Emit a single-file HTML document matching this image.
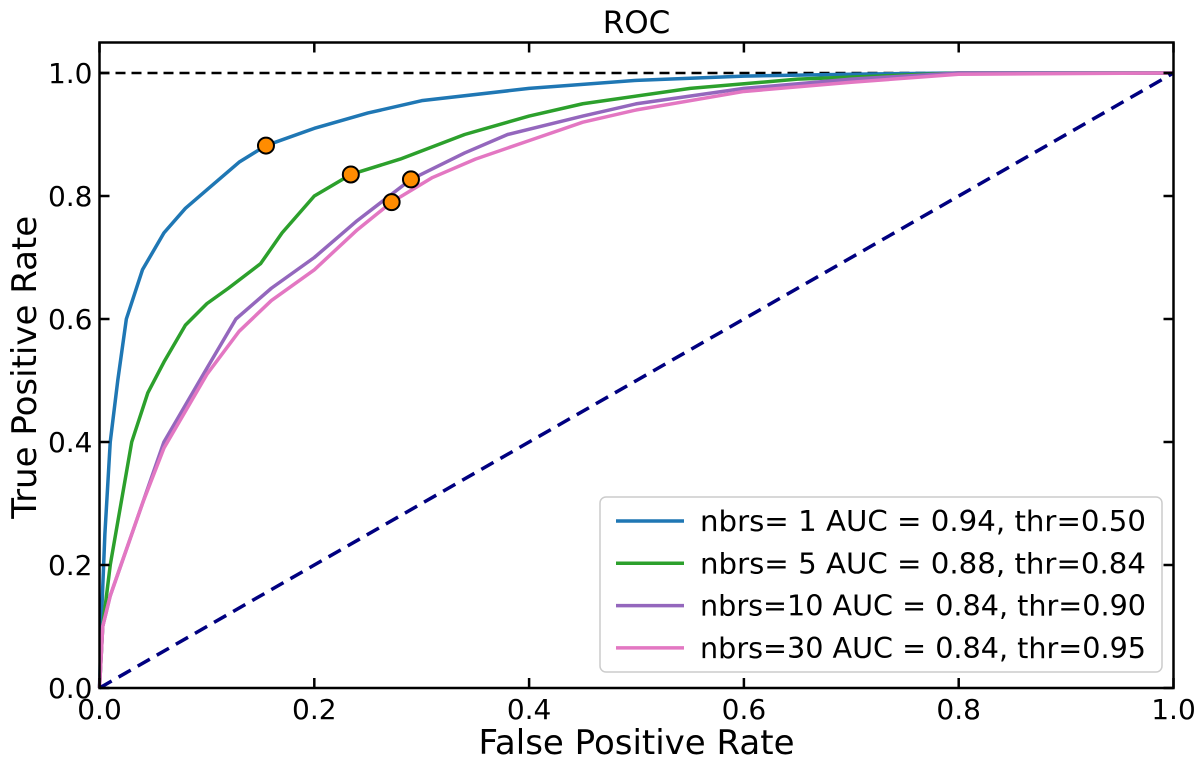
<!DOCTYPE html>
<html><head><meta charset="utf-8"><style>
body{margin:0;background:#fff}
svg text{font-family:"DejaVu Sans","Liberation Sans",sans-serif;fill:#000}
</style></head><body>
<svg id="c" width="1200" height="763"></svg>
<script>
const xTicks=[0,0.2,0.4,0.6,0.8,1.0];
const yTicks=[0,0.2,0.4,0.6,0.8,1.0];
const tickLabels=["0.0","0.2","0.4","0.6","0.8","1.0"];
const seriesNames=["nbrs= 1 AUC = 0.94, thr=0.50","nbrs= 5 AUC = 0.88, thr=0.84","nbrs=10 AUC = 0.84, thr=0.90","nbrs=30 AUC = 0.84, thr=0.95"];
const seriesColors=["#1f77b4","#2ca02c","#9467bd","#e377c2"];
const s1=[[0,0],[0.002,0.12],[0.005,0.25],[0.01,0.4],[0.017,0.5],[0.025,0.6],[0.04,0.68],[0.06,0.74],[0.08,0.78],[0.1,0.81],[0.13,0.855],[0.155,0.882],[0.2,0.91],[0.25,0.935],[0.3,0.955],[0.4,0.975],[0.5,0.988],[0.6,0.995],[0.7,0.998],[0.8,1],[1,1]];
const s5=[[0,0],[0.003,0.1],[0.01,0.2],[0.02,0.3],[0.03,0.4],[0.045,0.48],[0.06,0.53],[0.08,0.59],[0.1,0.625],[0.12,0.65],[0.15,0.69],[0.17,0.74],[0.2,0.8],[0.234,0.835],[0.28,0.86],[0.34,0.9],[0.4,0.93],[0.45,0.95],[0.55,0.975],[0.65,0.99],[0.8,1],[1,1]];
const s10=[[0,0],[0.003,0.1],[0.01,0.15],[0.02,0.2],[0.04,0.3],[0.06,0.4],[0.08,0.46],[0.1,0.52],[0.127,0.6],[0.16,0.65],[0.2,0.7],[0.24,0.76],[0.29,0.827],[0.34,0.87],[0.38,0.9],[0.45,0.93],[0.5,0.95],[0.6,0.975],[0.7,0.99],[0.8,1],[1,1]];
const s30=[[0,0],[0.003,0.1],[0.01,0.15],[0.02,0.2],[0.04,0.3],[0.06,0.39],[0.08,0.45],[0.1,0.51],[0.13,0.58],[0.16,0.63],[0.2,0.68],[0.24,0.745],[0.272,0.79],[0.31,0.83],[0.35,0.86],[0.4,0.89],[0.45,0.92],[0.5,0.94],[0.6,0.97],[0.7,0.985],[0.8,0.998],[1,1]];
const thrPoints=[[0.155,0.882],[0.234,0.835],[0.29,0.827],[0.272,0.79]];
const NS="http://www.w3.org/2000/svg",svg=document.getElementById('c');
const L=99.5,R=1173.5,B=688,T=42.5;
const X=v=>L+v*(R-L), Y=v=>B-v*615;
function el(t,a,p){const e=document.createElementNS(NS,t);for(const k in a)e.setAttribute(k,a[k]);(p||svg).appendChild(e);return e;}
let e=el('line',{x1:X(0),x2:X(1),y1:Y(1),y2:Y(1),stroke:'#000','stroke-width':2.5,'stroke-dasharray':'10,6'});


const all=[s1,s5,s10,s30];
all.forEach((s,i)=>{
 const p=el('polyline',{points:s.map(d=>X(d[0])+','+Y(d[1])).join(' '),fill:'none',stroke:seriesColors[i],'stroke-width':3.5,'stroke-linejoin':'round'});
 
 
});
e=el('line',{x1:X(0),x2:X(1),y1:Y(0),y2:Y(1),stroke:'#000080','stroke-width':3.5,'stroke-dasharray':'14,8'});


thrPoints.forEach((d,i)=>{
 const c=el('circle',{cx:X(d[0]),cy:Y(d[1]),r:8,fill:'#ff8c00',stroke:'#000','stroke-width':2});
 
 
});
e=el('rect',{x:L,y:T,width:R-L,height:B-T,fill:'none',stroke:'#000','stroke-width':2.5});


xTicks.forEach((v,i)=>{
 el('line',{x1:X(v),x2:X(v),y1:B,y2:B-10,stroke:'#000','stroke-width':2.5});
 el('line',{x1:X(v),x2:X(v),y1:T,y2:T+10,stroke:'#000','stroke-width':2.5});
 const t=el('text',{x:X(v),y:B+31,'font-size':28,'text-anchor':'middle'});t.textContent=tickLabels[i];
 
 
});
yTicks.forEach((v,i)=>{
 el('line',{x1:L,x2:L+10,y1:Y(v),y2:Y(v),stroke:'#000','stroke-width':2.5});
 el('line',{x1:R,x2:R-10,y1:Y(v),y2:Y(v),stroke:'#000','stroke-width':2.5});
 const t=el('text',{x:L-7,y:Y(v)+10,'font-size':28,'text-anchor':'end'});t.textContent=tickLabels[i];
 
 
});
let t=el('text',{x:(L+R)/2,y:33,'font-size':31,'text-anchor':'middle'});t.textContent='ROC';


t=el('text',{x:(L+R)/2,y:754,'font-size':34,'text-anchor':'middle'});t.textContent='False Positive Rate';


t=el('text',{x:0,y:0,'font-size':34,'text-anchor':'middle',transform:'translate(36,'+((T+B)/2+2)+') rotate(-90)'});t.textContent='True Positive Rate';


const g=el('g',{});


el('rect',{x:600,y:497,width:562,height:175,rx:6,fill:'#fff','fill-opacity':0.85,stroke:'#ccc','stroke-width':1.5},g);
seriesNames.forEach((n,i)=>{
 const yy=521+i*42.3;
 const ln=el('line',{x1:616,x2:684,y1:yy,y2:yy,stroke:seriesColors[i],'stroke-width':3.5},g);
 
 
 const tx=el('text',{x:700,y:yy+10,'font-size':28.5,textLength:446,lengthAdjust:'spacingAndGlyphs'},g);tx.textContent=n;
 
 
});
</script>
</body></html>
